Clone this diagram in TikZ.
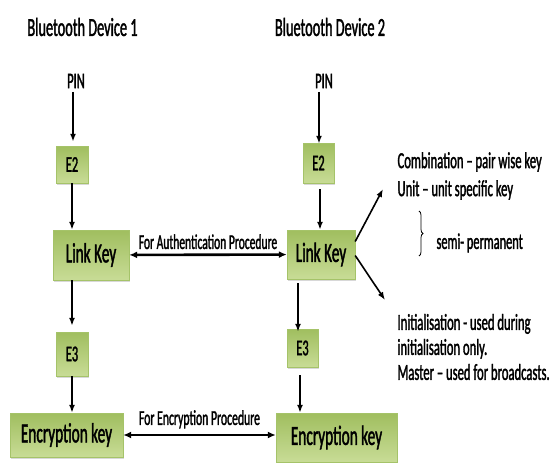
\documentclass[tikz,border=0pt]{standalone}
\usepackage{fontspec}
\setmainfont[FakeStretch=0.55, FakeBold=1.4]{Carlito}
\usetikzlibrary{arrows.meta,positioning,shadows,decorations.pathreplacing}
\definecolor{boxtop}{RGB}{160,190,95}
\definecolor{boxbot}{RGB}{200,220,150}
\definecolor{boxedge}{RGB}{165,195,105}

\begin{document}
\begin{tikzpicture}[
    x=1pt, y=-1pt,
    box/.style={draw=boxedge, top color=boxtop, bottom color=boxbot, inner sep=0pt,
      drop shadow={shadow xshift=0.8pt, shadow yshift=-1.6pt, fill=black!30}},
    small/.style={font=\fontsize{22.5}{24}\selectfont},
    big/.style={font=\fontsize{27.8}{30}\selectfont},
    title/.style={font=\fontsize{26}{28}\selectfont},
    arr/.style={-{Latex[length=8pt,width=6pt]}, line width=1.6pt},
    darr/.style={{Latex[length=8pt,width=7pt]}-{Latex[length=8pt,width=7pt]}, line width=2.6pt},
  ]
    \useasboundingbox (0,0) rectangle (555,463);

    % device titles
    \node[title] (dev1) at (82.5,27) {Bluetooth Device 1};
    \node[title] (dev2) at (330,27) {Bluetooth Device 2};

    % device 1
    \node[small] (pin1) at (76,81) {PIN};
    \node[box, small, minimum width=32pt, minimum height=37pt] (e21) at (72,164.5) {E2};
    \node[box, big, minimum width=76pt, minimum height=50pt] (lk1) at (91,255) {Link Key};
    \node[box, small, minimum width=32pt, minimum height=44pt] (e31) at (72,354) {E3};
    \node[box, big, minimum width=113pt, minimum height=44pt] (enc1) at (66.5,435) {Encryption key};

    % device 2
    \node[small] (pin2) at (324,81) {PIN};
    \node[box, small, minimum width=31pt, minimum height=40pt] (e22) at (318.5,163) {E2};
    \node[box, big, minimum width=68pt, minimum height=49pt] (lk2) at (321,254.5) {Link Key};
    \node[box, small, minimum width=31pt, minimum height=38pt] (e32) at (302.5,348) {E3};
    \node[box, big, minimum width=121pt, minimum height=49pt] (enc2) at (336.5,437.5) {Encryption key};

    % key types
    \node[small, align=left, anchor=west, font=\fontsize{23}{28}\selectfont] (semi) at (394,176)
      {Combination -- pair wise key\\Unit -- unit specific key};
    \coordinate (bt) at (419,211);
    \coordinate (bb) at (419,256);
    \node[small, anchor=west] (perm) at (433,243) {semi- permanent};
    \node[small, align=left, anchor=west, font=\fontsize{23}{25}\selectfont] (temp) at (394,347)
      {Initialisation - used during\\initialisation only.\\Master -- used for broadcasts.};
    \coordinate (up) at (383,189);
    \coordinate (dn) at (385,300);

    \draw[arr] ([xshift=-3pt]pin1.south) -- ++(0,50);
    \draw[arr] (e21.south) -- (e21.south |- lk1.north);
    \draw[arr, shorten >=6pt] (e31.north |- lk1.south) -- (e31.north);
    \draw[arr] (e31.south) -- (e31.south |- enc1.north);

    \draw[arr] ([xshift=-5pt]pin2.south) -- ++(0,52);
    \draw[arr] ([xshift=1.5pt, yshift=-6pt]e22.south) -- ([xshift=1.5pt]e22.south |- lk2.north);
    \draw[arr] ([xshift=-4.5pt, yshift=-4pt]e32.north |- lk2.south) -- ([xshift=-4.5pt, yshift=-3pt]e32.north);
    \draw[arr] ([xshift=-2.5pt, yshift=-8pt]e32.south) -- ([xshift=-2.5pt]e32.south |- enc2.north);

    \draw[darr] (lk1) -- node[above=1pt, font=\fontsize{21}{22}\selectfont] (auth) {For Authentication Procedure} (lk2);
    \draw[darr] (enc1.east) -- node[above=2pt, font=\fontsize{21.3}{22}\selectfont] (encp) {For Encryption Procedure} (enc1.east -| enc2.west);

    \draw[arr] ([yshift=13pt]lk2.east) -- (up);
    \draw[arr] ([yshift=-1pt]lk2.east) -- (dn);

    \draw[line width=0.8pt, decorate, decoration={brace, amplitude=4pt}] (bt) -- (bb);
  \end{tikzpicture}
\end{document}
